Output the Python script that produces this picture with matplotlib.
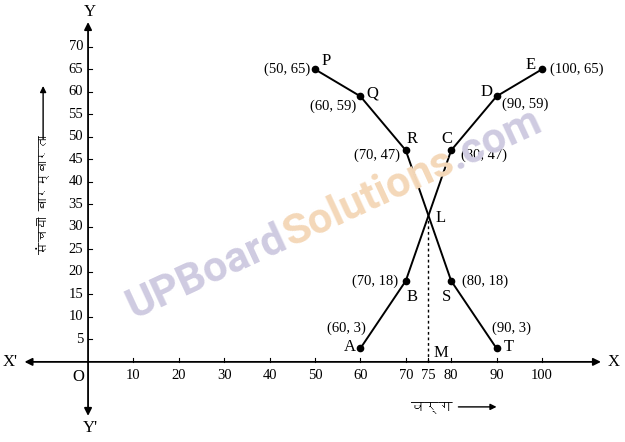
import numpy as np
import matplotlib
matplotlib.use("Agg")
import matplotlib.pyplot as plt
from matplotlib import font_manager as fm
from matplotlib.ft2font import FT2Font
from matplotlib.transforms import IdentityTransform

# ---------------- data ----------------
less_than_x = [60, 70, 80, 90, 100]
less_than_y = [3, 18, 47, 59, 65]
less_than_names = ["A", "B", "C", "D", "E"]

more_than_x = [50, 60, 70, 80, 90]
more_than_y = [65, 59, 47, 18, 3]
more_than_names = ["P", "Q", "R", "S", "T"]

x_ticks = [10, 20, 30, 40, 50, 60, 70, 75, 80, 90, 100]
y_ticks = [5, 10, 15, 20, 25, 30, 35, 40, 45, 50, 55, 60, 65, 70]

median_x = 75
median_y = 32.5

y_label = "संचयी बारम्बारता"
x_label = "वर्ग"

# ---------------- fonts ----------------
deva = None
for f in fm.fontManager.ttflist:
    try:
        if 0x0938 in FT2Font(f.fname).get_charmap():
            deva = f.name
            break
    except Exception:
        pass
deva_family = [deva, "DejaVu Sans"] if deva else ["DejaVu Sans"]
SERIF = "Liberation Serif"
WM_FONT = "Roboto"

W, H = 625, 442
fig = plt.figure(figsize=(W / 100, H / 100), dpi=100)
ax = fig.add_axes([0, 0, 1, 1])
ax.set_xlim(-19.4, 118.3)
ax.set_ylim(-17.8, 80.4)
ax.axis("off")

# ---------------- watermark ----------------
wm_parts = [("UPBoard", "#cfcbe1"), ("Solutions", "#f4d8b9"), (".com", "#cfcbe1")]
angle = 24.8
start = np.array([134.0, H - 319.0])
target_len = 452.0
r = fig.canvas.get_renderer()
probe = fig.text(0, 0, "".join(p for p, _ in wm_parts), fontsize=10,
                 fontweight="bold", family=WM_FONT)
w10 = probe.get_window_extent(r).width
probe.remove()
fs = 10 * target_len / w10
d = np.array([np.cos(np.radians(angle)), np.sin(np.radians(angle))])
pos = start.copy()
for txt, col in wm_parts:
    t = fig.text(0, 0, txt, fontsize=fs, fontweight="bold", family=WM_FONT)
    w = t.get_window_extent(r).width
    t.remove()
    fig.text(pos[0], pos[1], txt, fontsize=fs, fontweight="bold",
             family=WM_FONT, color=col, rotation=angle,
             rotation_mode="anchor", ha="left", va="baseline",
             transform=IdentityTransform(), zorder=0)
    pos = pos + d * w

# ---------------- axes lines ----------------
arrow = dict(arrowstyle="-|>", color="black", lw=1.3, mutation_scale=11,
             shrinkA=0, shrinkB=0)
ax.annotate("", xy=(113, 0), xytext=(0, 0), arrowprops=arrow)
ax.annotate("", xy=(-14, 0), xytext=(0, 0), arrowprops=arrow)
ax.annotate("", xy=(0, 75.5), xytext=(0, 0), arrowprops=arrow)
ax.annotate("", xy=(0, -12), xytext=(0, 0), arrowprops=arrow)

for xv in x_ticks:
    ax.plot([xv, xv], [0, 0.9], color="black", lw=0.8)
    ax.annotate(str(xv), (xv, 0), xytext=(0, -14), textcoords="offset pixels",
                ha="center", va="center", fontsize=10.5, family=SERIF)
for yv in y_ticks:
    ax.plot([0, 0.9], [yv, yv], color="black", lw=0.8)
    ax.annotate(str(yv), (0, yv), xytext=(-5, 0), textcoords="offset pixels",
                ha="right", va="center", fontsize=10.5, family=SERIF)

ax.text(-15.5, 0, "X'", ha="right", va="center", fontsize=12, family=SERIF)
ax.text(114.5, 0, "X", ha="left", va="center", fontsize=12, family=SERIF)
ax.text(0.5, 77.7, "Y", ha="center", va="center", fontsize=12, family=SERIF)
ax.text(0.5, -14.7, "Y'", ha="center", va="center", fontsize=12, family=SERIF)
ax.annotate("O", (0, 0), xytext=(-10, -15), textcoords="offset pixels",
            ha="center", va="center", fontsize=12, family=SERIF)

# axis labels with arrows
ax.text(-9.9, 37.2, y_label, rotation=90, ha="center", va="center",
        fontsize=9, family=deva_family)
ax.annotate("", xy=(-9.9, 61.3), xytext=(-9.9, 49.5),
            arrowprops=dict(arrowstyle="-|>", color="black", lw=1.0,
                            mutation_scale=9, shrinkA=0, shrinkB=0))
ax.text(80.3, -10.0, x_label, ha="right", va="center", fontsize=10,
        family=deva_family)
ax.annotate("", xy=(90.0, -10.0), xytext=(81.6, -10.0),
            arrowprops=dict(arrowstyle="-|>", color="black", lw=1.0,
                            mutation_scale=9, shrinkA=0, shrinkB=0))

# ---------------- ogives ----------------
ax.plot(less_than_x, less_than_y, color="black", lw=1.4, marker="o",
        markersize=4.5, zorder=3)
ax.plot(more_than_x, more_than_y, color="black", lw=1.4, marker="o",
        markersize=4.5, zorder=3)
ax.plot([median_x, median_x], [0, median_y], color="black", lw=1.0,
        ls=(0, (2, 2)), zorder=2)

def lab(x, y, s, dx, dy, ha="center", fs=11):
    ax.annotate(s, (x, y), xytext=(dx, dy), textcoords="offset pixels",
                ha=ha, va="center", fontsize=fs, family=SERIF)

name_off = {"A": (-11, 1), "B": (6, -16), "C": (-4, 11), "D": (-10, 4),
            "E": (-11, 4), "P": (11, 8), "Q": (12, 3), "R": (6, 11),
            "S": (-5, -16), "T": (12, 1)}
coord_off = {"A": (-14, 20, "center"), "B": (-8, 0, "right"),
             "C": (10, -5, "left"), "D": (5, -8, "left"),
             "E": (8, 0, "left"), "P": (-5, 0, "right"),
             "Q": (-4, -10, "right"), "R": (-6, -5, "right"),
             "S": (11, 0, "left"), "T": (15, 20, "center")}

for xs, ys, names in [(less_than_x, less_than_y, less_than_names),
                      (more_than_x, more_than_y, more_than_names)]:
    for xv, yv, n in zip(xs, ys, names):
        dx, dy = name_off[n]
        lab(xv, yv, n, dx, dy, fs=12)
        cx, cy, ha = coord_off[n]
        lab(xv, yv, f"({xv}, {yv})", cx, cy, ha=ha, fs=10.5)

lab(median_x, median_y, "L", 12, -2, fs=12)
lab(median_x, 0, "M", 12, 9, fs=12)

fig.savefig("out.png", dpi=100)
